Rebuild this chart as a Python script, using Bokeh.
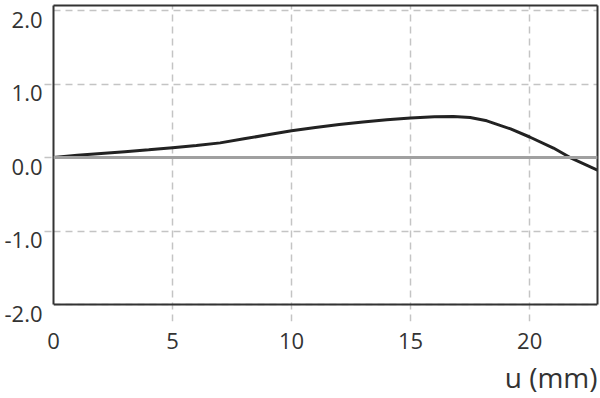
from bokeh.plotting import figure
from bokeh.models import (Range1d, FixedTicker, NumeralTickFormatter, Span, Title,
                          LinearAxis)
from bokeh.embed import file_html
from bokeh.resources import INLINE

# data
u_mm = [0, 1, 2, 3, 4, 5, 6, 7, 8, 9, 10, 11, 12, 13, 14, 15, 16, 16.8,
        17.5, 18.2, 19.2, 20, 21, 21.7, 22.85]
value = [0.0, 0.03, 0.055, 0.08, 0.105, 0.135, 0.165, 0.2, 0.255, 0.31, 0.365,
         0.41, 0.45, 0.485, 0.515, 0.54, 0.555, 0.56, 0.545, 0.50, 0.39, 0.28,
         0.13, 0.0, -0.17]
x_ticks = [0, 5, 10, 15, 20]
y_ticks = [-2, -1, 0, 1, 2]
x_title = "u (mm)"

FONT = "Open Sans"
GRID = "#c4c4c4"
DARK = "#333333"

W, H = 600, 398
LEFT_PX, RIGHT_PX = 53, 597
Y0, Y1 = -2.0, 2.07
X0, X1 = 0, 22.85
TOP_PX, AXIS_PX, BOT_PX = 5, 304, 321   # frame top, y=-2 line, frame bottom (grid stubs)
scale = (AXIS_PX - TOP_PX) / (Y1 - Y0)
Y0_frame = Y0 - (BOT_PX - AXIS_PX) / scale
SHIFT = 9 / scale  # tick labels sit just below their grid line

p = figure(frame_width=RIGHT_PX - LEFT_PX, frame_height=BOT_PX - TOP_PX,
           x_range=Range1d(X0, X1), y_range=Range1d(Y0_frame, Y1),
           output_backend="svg", toolbar_location=None,
           min_border_left=LEFT_PX, min_border_right=W - RIGHT_PX, min_border_top=TOP_PX,
           min_border_bottom=H - BOT_PX)
p.extra_y_ranges = {"lab": Range1d(Y0_frame + SHIFT, Y1 + SHIFT)}
p.background_fill_color = "white"
p.border_fill_color = "white"
p.outline_line_color = None

# bottom axis: labels only, sitting under the grid stubs
xa = p.xaxis[0]
xa.ticker = FixedTicker(ticks=x_ticks)
xa.axis_line_color = None
xa.major_tick_line_color = None
xa.minor_tick_line_color = None
xa.major_tick_in = 0
xa.major_tick_out = 0
xa.major_label_standoff = 11
xa.major_label_text_font = FONT
xa.major_label_text_font_size = "22px"
xa.major_label_text_color = DARK

# left axis: the frame's left edge plus short grey stubs
ya = p.yaxis[0]
ya.ticker = FixedTicker(ticks=y_ticks[1:-1])
ya.bounds = (Y0, Y1)
ya.axis_line_color = DARK
ya.axis_line_width = 2
ya.major_tick_line_color = GRID
ya.major_tick_line_width = 1.5
ya.major_tick_line_dash = "7 5"
ya.major_tick_in = 0
ya.major_tick_out = 9
ya.minor_tick_line_color = None
ya.major_label_standoff = 0
ya.major_label_overrides = {t: "" for t in y_ticks}

# y tick labels, shifted a little below their lines
lab_axis = LinearAxis(y_range_name="lab", ticker=FixedTicker(ticks=y_ticks),
                      formatter=NumeralTickFormatter(format="0.0"),
                      axis_line_color=None, major_tick_line_color=None,
                      minor_tick_line_color=None, major_tick_in=0, major_tick_out=0,
                      major_label_standoff=2, major_label_text_font=FONT,
                      major_label_text_font_size="22px", major_label_text_color=DARK)
p.add_layout(lab_axis, "left")

# right and top edges of the box
right_axis = LinearAxis(bounds=(Y0, Y1), axis_line_color=DARK, axis_line_width=2,
                        major_tick_line_color=None, minor_tick_line_color=None,
                        major_tick_in=0, major_tick_out=0, major_label_standoff=0,
                        major_label_text_font_size="0px",
                        major_label_overrides={t: "" for t in y_ticks})
p.add_layout(right_axis, "right")
top_axis = LinearAxis(axis_line_color=DARK, axis_line_width=2,
                      major_tick_line_color=None, minor_tick_line_color=None,
                      major_tick_in=0, major_tick_out=0, major_label_standoff=0,
                      major_label_text_font_size="0px",
                      major_label_overrides={t: "" for t in x_ticks})
p.add_layout(top_axis, "above")

for g in (p.xgrid[0], p.ygrid[0]):
    g.grid_line_color = GRID
    g.grid_line_width = 1.5
    g.grid_line_dash = "7 5"
p.xgrid.ticker = FixedTicker(ticks=x_ticks)
p.ygrid.ticker = FixedTicker(ticks=y_ticks)

p.add_layout(Span(location=0, dimension="width", line_color="#a0a0a0", line_width=3))
p.add_layout(Span(location=Y0, dimension="width", line_color=DARK, line_width=2))

p.line(u_mm, value, line_color="#222222", line_width=3)

p.add_layout(Title(text=x_title, align="right", text_font=FONT, text_font_size="28px",
                   text_font_style="normal", text_color=DARK, standoff=8), "below")

open("out.html", "w").write(file_html(p, INLINE))
